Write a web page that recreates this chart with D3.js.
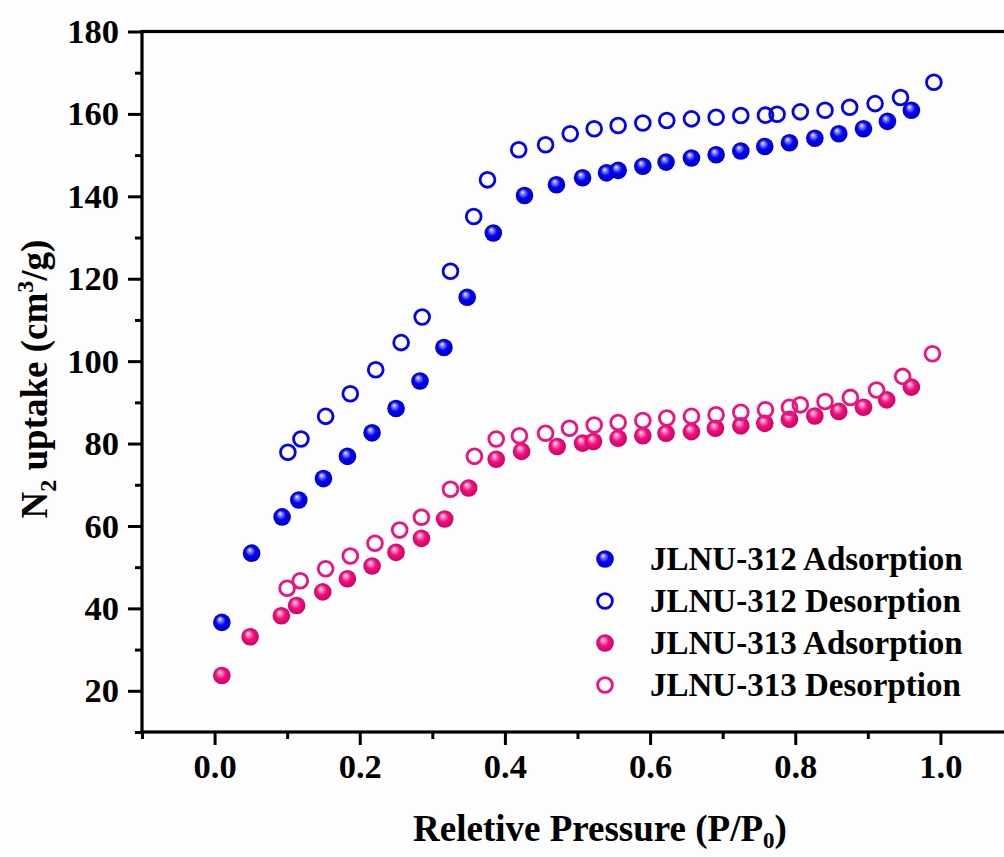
<!DOCTYPE html>
<html>
<head>
<meta charset="utf-8">
<script src="https://cdn.jsdelivr.net/npm/d3@7"></script>
<style>
  html, body { margin: 0; padding: 0; background: #fdfdfd; }
  svg { display: block; }
  text { font-family: "Liberation Serif", "Times New Roman", serif; font-weight: bold; fill: #000; }
</style>
</head>
<body>
<svg id="chart" width="1004" height="857"></svg>
<script>
// N2 isotherms at 77 K, [P/P0, uptake cm3/g]
const ads312 = [
  [0.010, 36.6], [0.051, 53.4], [0.093, 62.2], [0.116, 66.3], [0.150, 71.5],
  [0.183, 76.9], [0.217, 82.6], [0.250, 88.5], [0.283, 95.2], [0.316, 103.3],
  [0.348, 115.5], [0.384, 131.1], [0.427, 140.2], [0.471, 142.8], [0.507, 144.5],
  [0.540, 145.7], [0.556, 146.3], [0.590, 147.3], [0.622, 148.3], [0.657, 149.3],
  [0.691, 150.1], [0.725, 151.0], [0.758, 152.1], [0.792, 153.0], [0.827, 154.1],
  [0.860, 155.2], [0.894, 156.4], [0.927, 158.2], [0.960, 160.9]
];
const des312 = [
  [0.991, 167.7], [0.945, 164.0], [0.910, 162.5], [0.875, 161.6], [0.841, 160.9],
  [0.807, 160.5], [0.775, 159.9], [0.759, 159.7], [0.725, 159.6], [0.691, 159.2],
  [0.657, 158.8], [0.623, 158.4], [0.590, 157.8], [0.556, 157.2], [0.523, 156.4],
  [0.490, 155.2], [0.456, 152.5], [0.419, 151.3], [0.376, 144.0], [0.357, 135.1],
  [0.325, 121.8], [0.286, 110.7], [0.257, 104.5], [0.222, 97.9], [0.187, 92.1],
  [0.153, 86.6], [0.119, 81.1], [0.101, 77.9]
];
const ads313 = [
  [0.010, 23.7], [0.049, 33.1], [0.092, 38.2], [0.113, 40.7], [0.149, 44.0],
  [0.183, 47.2], [0.217, 50.3], [0.250, 53.6], [0.285, 57.0], [0.317, 61.7],
  [0.350, 69.2], [0.388, 76.2], [0.423, 78.1], [0.472, 79.3], [0.507, 80.1],
  [0.522, 80.5], [0.556, 81.3], [0.590, 81.9], [0.622, 82.5], [0.657, 82.9],
  [0.690, 83.7], [0.725, 84.3], [0.758, 84.9], [0.792, 85.9], [0.827, 86.7],
  [0.860, 87.8], [0.894, 88.8], [0.926, 90.6], [0.960, 93.7]
];
const des313 = [
  [0.989, 101.8], [0.948, 96.3], [0.912, 93.0], [0.876, 91.2], [0.841, 90.2],
  [0.807, 89.4], [0.792, 88.8], [0.759, 88.2], [0.725, 87.6], [0.691, 87.0],
  [0.657, 86.6], [0.623, 86.2], [0.590, 85.6], [0.556, 85.1], [0.523, 84.5],
  [0.489, 83.7], [0.456, 82.5], [0.420, 81.9], [0.388, 81.1], [0.358, 76.9],
  [0.325, 68.9], [0.285, 62.1], [0.255, 59.0], [0.221, 55.8], [0.187, 52.7],
  [0.153, 49.6], [0.118, 46.7], [0.100, 44.9]
];

const seriesNames = ["JLNU-312 Adsorption", "JLNU-312 Desorption", "JLNU-313 Adsorption", "JLNU-313 Desorption"];
const xTickValues = [0.0, 0.2, 0.4, 0.6, 0.8, 1.0];
const yTickValues = [20, 40, 60, 80, 100, 120, 140, 160, 180];

const BLUE = "#0303f2";
const PINK = "#f0107f";

const svg = d3.select("#chart");
const plot = { left: 142, right: 1013, top: 31.5, bottom: 732 };

const x = d3.scaleLinear().domain([-0.1, 1.1]).range([plot.left, plot.right]);
const y = d3.scaleLinear().domain([10, 180]).range([plot.bottom, plot.top]);

// shaded ball gradients for the filled markers
const defs = svg.append("defs");
function ball(id, light, base, dark) {
  const g = defs.append("radialGradient").attr("id", id)
    .attr("cx", "50%").attr("cy", "50%").attr("r", "55%")
    .attr("fx", "38%").attr("fy", "30%");
  g.append("stop").attr("offset", "0%").attr("stop-color", "#ffffff");
  g.append("stop").attr("offset", "18%").attr("stop-color", light);
  g.append("stop").attr("offset", "50%").attr("stop-color", base);
  g.append("stop").attr("offset", "100%").attr("stop-color", dark);
}
ball("ballBlue", "#8f8fff", BLUE, "#0000c0");
ball("ballPink", "#ff8cc4", PINK, "#c8005f");

// axes
const xMajor = d3.axisBottom(x).tickValues(xTickValues).tickFormat(d3.format(".1f"))
  .tickSize(13).tickPadding(9);
const xMinor = d3.axisBottom(x).tickValues([-0.1, 0.1, 0.3, 0.5, 0.7, 0.9, 1.1])
  .tickSize(7).tickFormat("");
const yMajor = d3.axisLeft(y).tickValues(yTickValues).tickFormat(d3.format("d"))
  .tickSize(14).tickPadding(9);
const yMinor = d3.axisLeft(y).tickValues([10, 30, 50, 70, 90, 110, 130, 150, 170])
  .tickSize(7).tickFormat("");

function styleAxis(g) {
  g.select(".domain").remove();
  g.selectAll(".tick line").attr("stroke", "#000").attr("stroke-width", 3);
  g.selectAll(".tick text").style("font-size", "34.5px")
    .style("font-family", "'Liberation Serif', serif").style("font-weight", "bold");
}

svg.append("g").attr("transform", `translate(0,${plot.bottom})`).call(xMajor).call(styleAxis);
svg.append("g").attr("transform", `translate(0,${plot.bottom})`).call(xMinor).call(styleAxis);
svg.append("g").attr("transform", `translate(${plot.left},0)`).call(yMajor).call(styleAxis);
svg.append("g").attr("transform", `translate(${plot.left},0)`).call(yMinor).call(styleAxis);

// frame
svg.append("rect")
  .attr("x", plot.left).attr("y", plot.top)
  .attr("width", plot.right - plot.left).attr("height", plot.bottom - plot.top)
  .attr("fill", "none").attr("stroke", "#000").attr("stroke-width", 3.2);

// markers
const series = [
  { data: ads312, filled: true, color: BLUE, grad: "ballBlue" },
  { data: des312, filled: false, color: BLUE },
  { data: ads313, filled: true, color: PINK, grad: "ballPink" },
  { data: des313, filled: false, color: PINK }
];

function drawMarker(sel, s) {
  if (s.filled) {
    sel.attr("r", 8.8).attr("fill", `url(#${s.grad})`).attr("stroke", "none");
  } else {
    sel.attr("r", 7.4).attr("fill", "none").attr("stroke", s.color).attr("stroke-width", 2.8);
  }
}

series.forEach(s => {
  svg.append("g").selectAll("circle").data(s.data).join("circle")
    .attr("cx", d => x(d[0])).attr("cy", d => y(d[1]))
    .call(sel => drawMarker(sel, s));
});

// legend
const legend = svg.append("g");
const legendRows = [559, 601, 643, 685];
series.forEach((s, i) => {
  legend.append("circle").attr("cx", 605).attr("cy", legendRows[i]).call(sel => drawMarker(sel, s));
  legend.append("text").attr("x", 650).attr("y", legendRows[i] + 11)
    .style("font-size", "33px").text(seriesNames[i]);
});

// axis titles
const xt = svg.append("text").attr("x", 600).attr("y", 841)
  .attr("text-anchor", "middle").style("font-size", "37px");
xt.append("tspan").text("Reletive Pressure (P/P");
xt.append("tspan").attr("dy", 7).style("font-size", "23px").text("0");
xt.append("tspan").attr("dy", -7).text(")");

const yt = svg.append("text").attr("transform", "translate(47,379) rotate(-90)")
  .attr("text-anchor", "middle").style("font-size", "37px");
yt.append("tspan").text("N");
yt.append("tspan").attr("dy", 9).style("font-size", "24px").text("2");
yt.append("tspan").attr("dy", -9).text(" uptake (cm");
yt.append("tspan").attr("dy", -14).style("font-size", "24px").text("3");
yt.append("tspan").attr("dy", 14).text("/g)");
</script>
</body>
</html>
